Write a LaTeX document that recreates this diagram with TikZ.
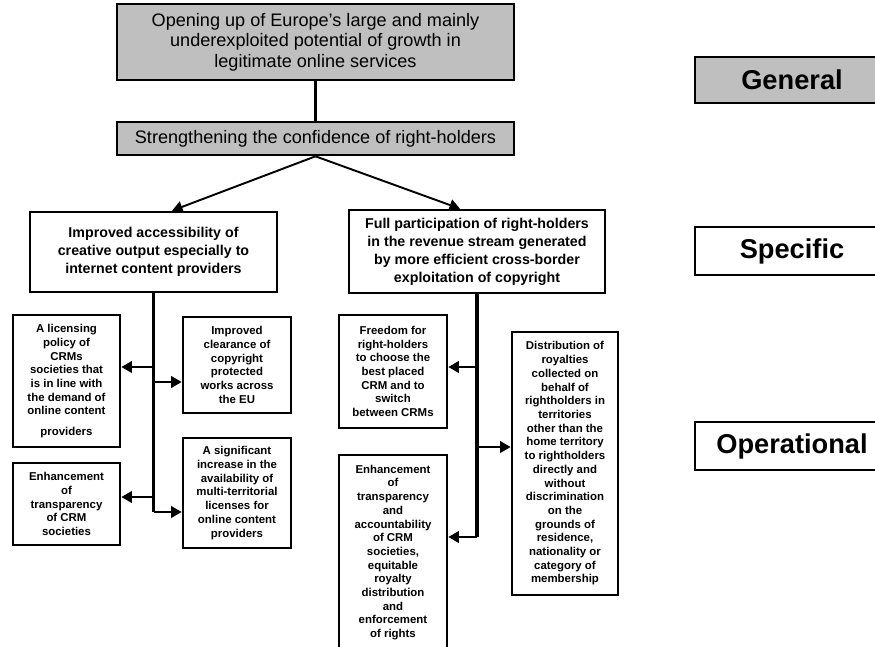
\documentclass[tikz,border=0pt]{standalone}
\usepackage{fontspec}
\setmainfont{Liberation Sans}
\usetikzlibrary{arrows.meta,calc}
\tikzstyle{goalbox}=[draw,line width=1.5pt,fill=black!25,align=center,
                     font=\fontsize{10.3}{11.6}\selectfont]
\tikzstyle{specbox}=[draw,line width=1.5pt,fill=white,align=center,
                     font=\bfseries\fontsize{8.1}{10.3}\selectfont]
\tikzstyle{opbox}=[draw,line width=1.5pt,fill=white,align=center,
                   font=\bfseries\fontsize{6.5}{7.8}\selectfont]
\tikzstyle{levelbox}=[draw,line width=1.5pt,minimum width=3.88cm,
                      font=\bfseries\fontsize{15.5}{18}\selectfont]
\tikzstyle{link}=[line width=1.3pt]
\tikzstyle{trunk}=[line width=2.2pt]
\tikzstyle{feed}=[-{Triangle[length=6pt,width=6.5pt]},line width=1.3pt]
\tikzstyle{split}=[-{Triangle[length=6pt,width=6.5pt]},line width=1.1pt]

\begin{document}
\begin{tikzpicture}[x=0.02cm,y=-0.02cm]

  % page frame (pixel grid of the original figure)
  \useasboundingbox (0,0) rectangle (875,646);

  % General and specific objectives
  \node[goalbox,minimum width=7.94cm,minimum height=1.52cm] (opening) at (315.5,42)
    {Opening up of Europe's large and mainly\\
     underexploited potential of growth in\\
     legitimate online services};
  \node[goalbox,minimum width=7.94cm,minimum height=0.66cm] (confidence) at (315.5,138.5)
    {Strengthening the confidence of right-holders};
  \node[specbox,minimum width=4.94cm,minimum height=1.6cm] (access) at (153.5,252)
    {Improved accessibility of\\ creative output especially to\\ internet content providers};
  \node[specbox,minimum width=5.12cm,minimum height=1.66cm] (revenue) at (477,251.5)
    {Full participation of right-holders\\ in the revenue stream generated\\
     by more efficient cross-border\\ exploitation of copyright};

  % Operational objectives, left branch
  \node[opbox,minimum width=2.14cm,minimum height=2.64cm] (licensing) at (66.5,381)
    {A licensing\\ policy of\\ CRMs\\ societies that\\ is in line with\\
     the demand of\\ online content\\[3.7pt] providers};
  \node[opbox,minimum width=2.14cm,minimum height=1.64cm] (transpl) at (66.5,504)
    {Enhancement\\ of\\ transparency\\ of CRM\\ societies};
  \node[opbox,minimum width=2.16cm,minimum height=1.92cm] (clearance) at (237,365)
    {Improved\\ clearance of\\ copyright\\ protected\\ works across\\ the EU};
  \node[opbox,minimum width=2.16cm,minimum height=2.2cm] (multiterr) at (237,493)
    {A significant\\ increase in the\\ availability of\\ multi-territorial\\
     licenses for\\ online content\\ providers};

  % Operational objectives, right branch
  \node[opbox,minimum width=2.16cm,minimum height=2.26cm] (freedom) at (393,371.5)
    {Freedom for\\ right-holders\\ to choose the\\ best placed\\ CRM and to\\
     switch\\ between CRMs};
  \node[opbox,minimum width=2.16cm,minimum height=3.9cm] (transpr) at (393,552.5)
    {Enhancement\\ of\\ transparency\\ and\\ accountability\\ of CRM\\ societies,\\
     equitable\\ royalty\\ distribution\\ and\\ enforcement\\ of rights};
  \node[opbox,minimum width=2.12cm,minimum height=5.26cm] (royalties) at (565,463.5)
    {Distribution of\\ royalties\\ collected on\\ behalf of\\ rightholders in\\
     territories\\ other than the\\ home territory\\ to rightholders\\ directly and\\
     without\\ discrimination\\ on the\\ grounds of\\ residence,\\ nationality or\\
     category of\\ membership};

  % Level labels
  \node[levelbox,fill=black!25,minimum height=0.92cm] (general) at (792,80) {General};
  \node[levelbox,fill=white,minimum height=0.96cm] (specific) at (792,251) {Specific};
  \node[levelbox,fill=white,minimum height=0.96cm] (operational) at (792,446) {Operational};

  % Connectors
  \draw[link] (opening) -- (confidence);
  \draw[split] (confidence.south) -- ([xshift=0.37cm]access.north);
  \draw[split] (confidence.south) -- ([xshift=-0.34cm]revenue.north);

  \coordinate (lend) at (access.south |- 0,512);
  \coordinate (rend) at (revenue.south |- 0,537);
  \draw[trunk] (access.south) -- (lend);
  \draw[trunk] (revenue.south) -- (rend);

  \draw[feed] (access.south |- 0,367) -- (licensing.east |- 0,367);
  \draw[feed] (access.south |- 0,382) -- (clearance.west |- 0,382);
  \draw[feed] (access.south |- 0,497) -- (transpl.east |- 0,497);
  \draw[feed] (lend) -- (multiterr.west |- lend);

  \draw[feed] (revenue.south |- 0,367) -- (freedom.east |- 0,367);
  \draw[feed] (revenue.south |- 0,447) -- (royalties.west |- 0,447);
  \draw[feed] (rend) -- (transpr.east |- rend);

\end{tikzpicture}
\end{document}
